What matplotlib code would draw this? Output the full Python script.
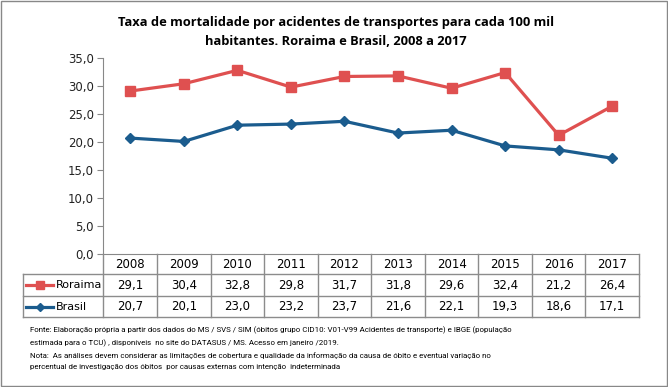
import matplotlib.pyplot as plt
from matplotlib.lines import Line2D
import numpy as np

anos = ["2008", "2009", "2010", "2011", "2012", "2013", "2014", "2015", "2016", "2017"]
roraima = [29.1, 30.4, 32.8, 29.8, 31.7, 31.8, 29.6, 32.4, 21.2, 26.4]
brasil = [20.7, 20.1, 23.0, 23.2, 23.7, 21.6, 22.1, 19.3, 18.6, 17.1]
series = [("Roraima", roraima, "#DF5050", "s"), ("Brasil", brasil, "#1B5C8E", "D")]

titulo = "Taxa de mortalidade por acidentes de transportes para cada 100 mil\nhabitantes. Roraima e Brasil, 2008 a 2017"
nota = ("Fonte: Elaboração própria a partir dos dados do MS / SVS / SIM (óbitos grupo CID10: V01-V99 Acidentes de transporte) e IBGE (população\n"
        "estimada para o TCU) , disponíveis  no site do DATASUS / MS. Acesso em janeiro /2019.\n"
        "Nota:  As análises devem considerar as limitações de cobertura e qualidade da informação da causa de óbito e eventual variação no\n"
        "percentual de investigação dos óbitos  por causas externas com intenção  indeterminada")

W, H = 668, 387
fig = plt.figure(figsize=(W / 100, H / 100), dpi=100)

def fx(px):
    return px / W

def fy(py):
    return 1 - py / H

# plot area in pixels
x0, x1, ytop, ybot = 103.5, 639, 58, 254
ax = fig.add_axes([fx(x0), fy(ybot), fx(x1) - fx(x0), fy(ytop) - fy(ybot)])
x = np.arange(len(anos))
for nome, vals, cor, mk in series:
    ms = 6.5 if mk == "s" else 5
    ax.plot(x, vals, color=cor, lw=2.3, marker=mk, ms=ms, zorder=3)
ax.set_xlim(-0.5, len(anos) - 0.5)
ax.set_ylim(0, 35)
ax.set_yticks(np.arange(0, 36, 5))
ax.set_yticklabels([f"{v:.1f}".replace(".", ",") for v in np.arange(0, 36, 5)], fontsize=8.5, color="#222222")
ax.set_xticks([])
for s in ["top", "right"]:
    ax.spines[s].set_visible(False)
ax.spines["left"].set_color("#888888")
ax.spines["bottom"].set_color("#888888")
ax.tick_params(axis="y", length=4, color="#888888", pad=3)

# data table
grid = "#8c8c8c"
colw = (x1 - x0) / len(anos)
rows_y = [254, 274, 296, 317]
left = 23
for yy in rows_y[1:]:
    fig.add_artist(Line2D([fx(left), fx(x1)], [fy(yy), fy(yy)], color=grid, lw=1))
for i in range(len(anos) + 1):
    xx = x0 + i * colw
    fig.add_artist(Line2D([fx(xx), fx(xx)], [fy(rows_y[0]), fy(rows_y[-1])], color=grid, lw=1))
fig.add_artist(Line2D([fx(left), fx(left)], [fy(rows_y[1]), fy(rows_y[-1])], color=grid, lw=1))

for i, a in enumerate(anos):
    cx = x0 + (i + 0.5) * colw
    fig.text(fx(cx), fy((rows_y[0] + rows_y[1]) / 2 + 1), a, ha="center", va="center", fontsize=8.5)
    for r, (nome, vals, cor, mk) in enumerate(series):
        yc = (rows_y[r + 1] + rows_y[r + 2]) / 2
        fig.text(fx(cx), fy(yc), f"{vals[i]:.1f}".replace(".", ","), ha="center", va="center", fontsize=8.5)

for r, (nome, vals, cor, mk) in enumerate(series):
    yc = (rows_y[r + 1] + rows_y[r + 2]) / 2
    fig.add_artist(Line2D([fx(26), fx(53)], [fy(yc), fy(yc)], color=cor, lw=2.3))
    fig.add_artist(Line2D([fx(40)], [fy(yc)], color=cor, marker=mk, ms=6 if mk == "s" else 4.5))
    fig.text(fx(56), fy(yc), nome, ha="left", va="center", fontsize=8)

fig.text(fx(336), fy(32), titulo, ha="center", va="center", fontsize=9.3, fontweight="bold",
         family=["Open Sans", "DejaVu Sans"], linespacing=1.55)
fig.text(fx(30), fy(326), nota, ha="left", va="top", fontsize=5.7, linespacing=1.95,
         family=["Roboto", "Liberation Sans", "DejaVu Sans"])

fig.add_artist(plt.Rectangle((fx(1), fy(386)), fx(666), fy(1) - fy(386), fill=False, ec="#888888", lw=1))

fig.savefig("out.png", dpi=100)
